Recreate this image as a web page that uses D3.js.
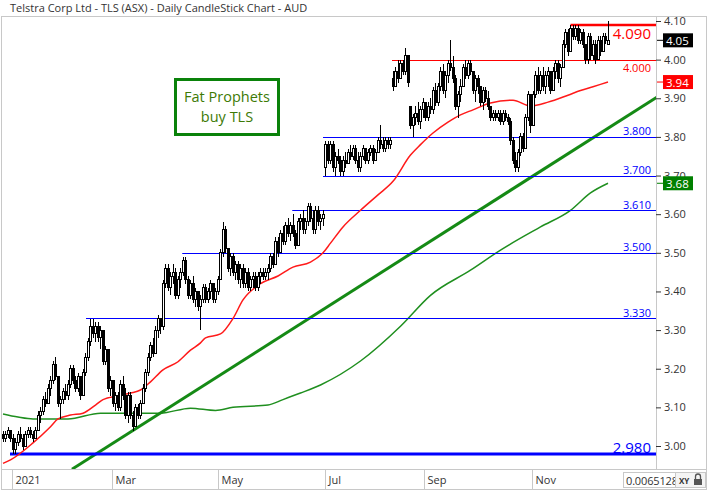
<!DOCTYPE html>
<html>
<head>
<meta charset="utf-8">
<script src="https://cdn.jsdelivr.net/npm/d3@7"></script>
<style>
  body { margin: 0; background: #fff; }
  svg { display: block; font-family: "Open Sans", sans-serif; }
</style>
</head>
<body>
<svg id="chart" width="708" height="491"></svg>
<script>
// daily prices in cents, one entry per trading day (late Dec 2020 .. Dec 2021)
var opens = [
  303,302,303,304,302,299,301,303,302,300, 303,304,303,302,304,308,309,312,311,315,
  317,321,318,311,312,314,313,316,320,317, 315,318,313,319,323,327,331,329,331,328,
  330,322,325,315,317,311,313,310,316,313, 308,313,308,305,310,308,311,315,319,323,
  326,324,330,333,331,342,346,341,344,345, 339,343,345,348,343,339,342,338,340,336,
  338,341,338,340,342,338,340,343,350,356, 351,346,349,345,347,343,346,342,345,341,
  343,344,341,344,345,344,345,346,349,347, 353,350,355,353,357,355,357,355,352,358,
  359,356,358,362,359,356,361,358,359,372, 378,374,378,372,375,374,371,374,373,376,
  375,377,374,372,375,377,374,376,377,374, 376,379,378,377,379,378,395,393,397,395,
  399,397,401,388,383,385,386,384,387,389, 385,388,387,392,389,393,397,392,396,399,
  398,395,388,391,393,398,396,399,397,392, 395,393,389,392,390,388,385,386,385,386,
  384,386,385,384,379,374,372,376,380,377, 385,391,383,391,396,392,396,393,396,397,
  392,397,399,395,398,404,407,402,408,406, 408,405,407,404,400,406,401,404,400,405,
  402,406,404
];
var highs = [
  304,304,305,304,303,302,304,305,303,304, 305,305,304,305,309,310,313,314,316,318,
  322,323,318,313,315,316,317,321,321,318, 319,318,320,324,328,333,333,332,332,331,
  330,326,325,318,317,314,314,317,318,315, 314,314,309,311,311,312,316,320,324,327,
  328,331,334,333,343,347,347,345,347,346, 344,346,349,349,344,343,344,341,340,339,
  342,342,341,343,342,341,344,351,358,357, 351,350,350,348,348,347,347,346,346,344,
  345,345,345,346,346,346,347,350,350,354, 354,356,357,358,359,358,360,356,359,360,
  361,359,363,363,361,362,362,360,361,379, 379,379,379,376,377,375,375,376,377,378,
  378,378,376,376,378,377,377,378,378,377, 380,383,380,380,380,380,397,398,400,400,
  400,403,401,388,386,388,389,388,390,389, 389,390,393,394,394,398,399,397,400,405,
  401,396,392,395,399,400,400,400,397,396, 396,393,393,393,392,388,387,387,387,387,
  387,387,386,385,380,376,377,381,381,386, 392,391,392,397,398,397,398,397,398,397,
  398,400,400,399,405,408,408,409,409,409, 409,408,408,404,407,407,405,405,406,406,
  407,407,410
];
var lows = [
  301,301,302,301,298,298,300,301,299,300, 302,302,301,302,304,306,308,310,311,313,
  316,317,310,307,311,312,312,315,316,314, 314,312,313,318,322,326,328,327,327,325,
  321,321,314,313,310,309,309,309,312,307, 306,307,304,305,307,307,311,314,318,322,
  323,324,328,329,330,341,340,339,342,338, 338,341,344,342,338,338,337,336,335,330,
  337,337,337,338,337,337,339,343,349,350, 345,344,344,343,342,341,341,341,340,340,
  341,340,340,342,343,343,343,345,346,347, 349,350,352,352,354,353,354,351,352,356,
  355,355,357,358,355,355,357,356,357,370, 373,373,371,370,373,370,370,372,373,374,
  374,373,371,371,374,373,373,375,373,374, 376,377,376,376,377,377,392,393,394,395,
  396,396,393,382,380,383,383,382,385,384, 384,386,386,388,388,392,391,390,394,397,
  394,387,385,389,393,395,395,396,391,389, 391,388,387,389,387,384,384,384,384,383,
  383,384,383,378,373,371,371,375,376,377, 384,381,383,390,391,391,392,391,393,391,
  392,395,394,393,398,403,401,402,405,405, 404,404,403,399,399,400,400,399,400,401,
  402,404,404
];
var closes = [
  302,303,304,302,299,301,303,302,300,303, 304,303,302,304,308,309,312,311,315,317,
  321,318,311,312,314,313,316,320,317,315, 318,313,319,323,327,331,329,331,328,330,
  322,325,315,317,311,313,310,316,313,308, 313,308,305,310,308,311,315,319,323,326,
  324,330,333,331,342,346,341,344,345,339, 343,345,348,343,339,342,338,340,336,338,
  341,338,340,342,338,340,343,350,356,351, 346,349,345,347,343,346,342,345,341,343,
  344,341,344,345,344,345,346,349,347,353, 350,355,353,357,355,357,355,352,358,359,
  356,358,362,359,356,361,358,359,360,378, 374,378,372,375,374,371,374,373,376,375,
  377,374,372,375,377,374,376,377,374,376, 379,378,377,379,378,379,393,397,395,399,
  397,401,394,383,385,386,384,387,389,385, 388,387,392,389,393,397,392,396,399,398,
  395,388,391,393,398,396,399,397,392,395, 393,389,392,390,388,385,386,385,386,384,
  386,385,384,379,374,372,376,380,377,385, 391,383,391,396,392,396,393,396,397,392,
  397,399,395,398,404,407,402,408,406,408, 405,407,404,400,406,401,404,400,405,402,
  406,405,405
];

// month ticks (trading-day index of the first session)
var monthLabels = ["2021", "Mar", "May", "Jul", "Sep", "Nov"];
var monthIdx = [3.6, 43.6, 86, 128.8, 168.4, 211.6];

var priceTicks = [3.0, 3.1, 3.2, 3.3, 3.4, 3.5, 3.6, 3.7, 3.8, 3.9, 4.0, 4.1];

// support / resistance lines: price and the day they start from
var levelPrices = [4.09, 4.00, 3.80, 3.70, 3.61, 3.50, 3.33, 2.98];
var levelStart = [227, 155.6, 128, 128, 115.7, 71.7, 33.2, 2.8];

// moving averages (day index, price)
var maRedIdx = [0, 3, 12, 19, 22, 27, 32, 37, 40, 46, 51, 55, 59, 64, 70, 75, 79, 81, 87, 92, 96,
  103, 110, 116, 123, 128, 131, 136, 143, 150, 156, 163, 167, 172, 178, 183, 188, 195, 204, 211,
  218, 226, 231, 236, 242];
var maRedVal = [2.955, 2.964, 3.008, 3.05, 3.07, 3.08, 3.085, 3.106, 3.12, 3.13, 3.137, 3.145, 3.166,
  3.197, 3.218, 3.248, 3.267, 3.28, 3.29, 3.33, 3.378, 3.42, 3.44, 3.463, 3.476, 3.50, 3.525, 3.567,
  3.61, 3.65, 3.685, 3.753, 3.78, 3.81, 3.838, 3.857, 3.87, 3.888, 3.895, 3.88, 3.89, 3.908, 3.92,
  3.93, 3.942];
var maGreenIdx = [0, 6, 12, 26, 39, 52, 63, 75, 85, 92, 106, 112, 119, 127, 143, 159, 171, 187, 199,
  215, 227, 235, 242];
var maGreenVal = [3.083, 3.075, 3.07, 3.07, 3.085, 3.085, 3.085, 3.098, 3.092, 3.10, 3.106, 3.12,
  3.137, 3.158, 3.22, 3.31, 3.39, 3.455, 3.507, 3.567, 3.61, 3.655, 3.68];

// long-term uptrend line
var trendIdx = [27.6, 261.6];
var trendVal = [2.94, 3.903];

var svg = d3.select("#chart");
var plotL = 2, plotR = 656, plotT = 16, plotB = 469;
var grid = "#c8c8c8", txt = "#333";

var x = d3.scaleLinear().domain([0, 261.6]).range([3, 657]);
var y = d3.scaleLinear().domain([3.0, 4.1]).range([446, 21]);

svg.append("text").attr("x", 10).attr("y", 11.5).attr("font-size", "11px").attr("fill", txt)
  .text("Telstra Corp Ltd - TLS (ASX) - Daily CandleStick Chart - AUD");

svg.append("defs").append("clipPath").attr("id", "plot")
  .append("rect").attr("x", plotL).attr("y", plotT).attr("width", plotR - plotL).attr("height", plotB - plotT);

// frame
svg.append("rect").attr("x", 1.5).attr("y", 16.5).attr("width", 705).attr("height", 473)
  .attr("fill", "none").attr("stroke", grid);
svg.append("line").attr("x1", 2).attr("x2", 706).attr("y1", 469.5).attr("y2", 469.5).attr("stroke", grid);
svg.append("line").attr("x1", 656.5).attr("x2", 656.5).attr("y1", 16).attr("y2", 469).attr("stroke", grid);

// month axis
var months = svg.append("g");
monthIdx.forEach(function (m, k) {
  var px = Math.round(x(m)) + 0.5;
  months.append("line").attr("x1", px).attr("x2", px).attr("y1", 470).attr("y2", 489).attr("stroke", grid);
  months.append("text").attr("x", px + 3).attr("y", 484).attr("font-size", "11px").attr("fill", txt).text(monthLabels[k]);
});

var plot = svg.append("g").attr("clip-path", "url(#plot)");

// green moving average
var line = d3.line().curve(d3.curveMonotoneX);
plot.append("path")
  .attr("d", line(maGreenIdx.map(function (d, k) { return [x(d), y(maGreenVal[k])]; })))
  .attr("fill", "none").attr("stroke", "#1f8f1f").attr("stroke-width", 1.5);

// trend line
plot.append("line")
  .attr("x1", x(trendIdx[0])).attr("y1", y(trendVal[0]))
  .attr("x2", x(trendIdx[1])).attr("y2", y(trendVal[1]))
  .attr("stroke", "#158a15").attr("stroke-width", 3);

// levels
var levelG = plot.append("g");
levelPrices.forEach(function (p, k) {
  var red = p >= 4.0;
  var thick = (p === 4.09 || p === 2.98);
  var py = Math.round(y(p)) + (thick ? 0 : 0.5);
  levelG.append("line").attr("x1", x(levelStart[k])).attr("x2", plotR).attr("y1", py).attr("y2", py)
    .attr("stroke", red ? "#ff0000" : "#0000ff").attr("stroke-width", thick ? (red ? 2.5 : 3) : 1.2);
});

// red moving average
plot.append("path")
  .attr("d", line(maRedIdx.map(function (d, k) { return [x(d), y(maRedVal[k])]; })))
  .attr("fill", "none").attr("stroke", "#ff1a1a").attr("stroke-width", 1.5);

// candles
var candles = closes.map(function (c, i) {
  return { i: i, o: opens[i] / 100, h: highs[i] / 100, l: lows[i] / 100, c: c / 100 };
});
var cg = plot.append("g").attr("shape-rendering", "crispEdges");
var cs = cg.selectAll("g").data(candles).enter().append("g");
cs.append("line")
  .attr("x1", function (d) { return x(d.i); }).attr("x2", function (d) { return x(d.i); })
  .attr("y1", function (d) { return y(d.h); }).attr("y2", function (d) { return y(d.l); })
  .attr("stroke", "#000").attr("stroke-width", 1);
cs.append("rect")
  .attr("x", function (d) { return x(d.i) - 1; }).attr("width", 2)
  .attr("y", function (d) { return y(Math.max(d.o, d.c)); })
  .attr("height", function (d) { return Math.max(1, Math.abs(y(d.o) - y(d.c))); })
  .attr("fill", function (d) { return d.c >= d.o ? "#fff" : "#000"; })
  .attr("stroke", "#000").attr("stroke-width", 1);

// level labels
levelPrices.forEach(function (p, k) {
  var red = p >= 4.0;
  var big = (p === 4.09 || p === 2.98);
  var py = y(p);
  svg.append("text").attr("x", 651).attr("text-anchor", "end")
    .attr("y", red ? py + (big ? 14 : 12) : py - (big ? 1 : 1.5))
    .attr("font-size", big ? "15px" : "11px")
    .attr("fill", red ? "#ff0000" : "#0000ff")
    .text(d3.format(".3f")(p));
});

// right price axis
var axis = svg.append("g").attr("transform", "translate(656,0)")
  .call(d3.axisRight(y).tickValues(priceTicks).tickSize(5).tickPadding(3).tickFormat(d3.format(".2f")));
axis.select(".domain").remove();
axis.selectAll("line").attr("stroke", txt);
axis.selectAll("text").attr("font-size", "11px").attr("fill", txt).attr("font-family", "Open Sans, sans-serif");

// last-value tags
var tags = [
  { v: closes[closes.length - 1] / 100, c: "#000000" },
  { v: maRedVal[maRedVal.length - 1], c: "#ff0000" },
  { v: maGreenVal[maGreenVal.length - 1], c: "#008000" }
];
tags.forEach(function (t) {
  var ty = y(t.v);
  svg.append("line").attr("x1", 657).attr("x2", 663).attr("y1", ty).attr("y2", ty).attr("stroke", t.c);
  svg.append("rect").attr("x", 663).attr("y", ty - 7).attr("width", 30).attr("height", 14).attr("fill", t.c);
  svg.append("text").attr("x", 666).attr("y", ty + 4.5).attr("font-size", "11.5px").attr("fill", "#fff")
    .text(d3.format(".2f")(t.v));
});

// annotation
svg.append("rect").attr("x", 175.5).attr("y", 79.5).attr("width", 103).attr("height", 55)
  .attr("fill", "#fff").attr("stroke", "#0a820a").attr("stroke-width", 3);
svg.append("text").attr("x", 227).attr("y", 102).attr("text-anchor", "middle").attr("font-size", "14.5px")
  .attr("fill", "#3d7a05").text("Fat Prophets");
svg.append("text").attr("x", 227).attr("y", 122).attr("text-anchor", "middle").attr("font-size", "14.5px")
  .attr("fill", "#3d7a05").text("buy TLS");

// bottom-right status boxes
svg.append("rect").attr("x", 623.5).attr("y", 472.5).attr("width", 52).attr("height", 15)
  .attr("fill", "#fff").attr("stroke", grid);
svg.append("text").attr("x", 626).attr("y", 484.5).attr("font-size", "11px").attr("fill", txt)
  .attr("textLength", 52).text("0.0065128");
svg.append("rect").attr("x", 675.5).attr("y", 472.5).attr("width", 30).attr("height", 15)
  .attr("fill", "#f4f4f4").attr("stroke", grid);
svg.append("text").attr("x", 679).attr("y", 484).attr("font-size", "8px").attr("font-weight", "bold")
  .attr("fill", txt).text("XY");
svg.append("path").attr("d", "M695.5,479 v-2.5 a2.5,2.5 0 0 1 5,0 v2.5").attr("fill", "none").attr("stroke", "#555").attr("stroke-width", 1.3);
svg.append("rect").attr("x", 694).attr("y", 479).attr("width", 8).attr("height", 6).attr("fill", "#555");
</script>
</body>
</html>
